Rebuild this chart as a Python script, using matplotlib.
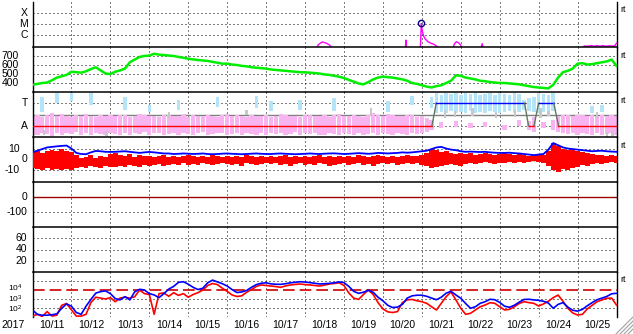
import numpy as np
import matplotlib
matplotlib.use('Agg')
import matplotlib.pyplot as plt
import matplotlib.transforms as mtrans
from matplotlib.lines import Line2D
from matplotlib.ticker import NullLocator

plt.rcParams['font.family'] = ['Liberation Sans', 'DejaVu Sans']
plt.rcParams['axes.unicode_minus'] = False
plt.rcParams['mathtext.fontset'] = 'custom'
plt.rcParams['mathtext.rm'] = 'Liberation Sans'
plt.rcParams['mathtext.it'] = 'Liberation Sans'

# ---------------- data ----------------
year_label = '2017'
day_labels = ['10/11', '10/12', '10/13', '10/14', '10/15', '10/16', '10/17', '10/18',
              '10/19', '10/20', '10/21', '10/22', '10/23', '10/24', '10/25']
# days since 2017-10-11 00 UT, 3-hourly samples
t3 = np.arange(121) * 0.125

# GOES X-ray flux (log10 W/m2); values below -7.06 fall under the panel
xray_t = [0.0, 7.28, 7.34, 7.44, 7.54, 7.64, 7.70, 9.575, 9.593, 9.61, 9.96, 9.987, 10.01,
          10.04, 10.08, 10.12, 10.17, 10.22, 10.30, 10.37, 10.42, 10.785, 10.84, 10.89,
          10.95, 11.0, 11.04, 11.505, 11.55, 11.58, 14.15, 14.17, 14.30, 14.33, 14.45,
          14.48, 14.60, 14.62, 14.75, 14.80, 14.95, 15.0]
xray_log = [-7.3, -7.3, -6.85, -6.6, -6.7, -6.9, -7.3, -7.3, -6.43, -7.3, -7.3, -4.92, -5.6,
            -6.0, -6.3, -6.45, -6.6, -6.7, -6.8, -6.95, -7.3, -7.3, -6.75, -6.58,
            -6.7, -6.9, -7.3, -7.3, -6.76, -7.3, -7.3, -6.97, -6.99, -6.93, -6.99,
            -6.93, -6.99, -6.93, -6.99, -6.95, -6.98, -6.72]
flare_peak_t = 9.987
flare_peak_log = -4.92

# solar wind speed (km/s)
speed = [380, 390, 400, 405, 430, 460, 475, 490,
         525, 520, 515, 530, 555, 575, 540, 505,
         500, 525, 540, 560, 630, 660, 690, 700,
         705, 725, 715, 710, 705, 700, 690, 680,
         670, 662, 655, 650, 645, 635, 625, 615,
         615, 605, 600, 590, 585, 575, 570, 565,
         560, 550, 545, 540, 535, 530, 525, 520,
         518, 515, 510, 505, 495, 490, 480, 470,
         455, 435, 415, 395, 385, 410, 440, 460,
         470, 465, 460, 450, 440, 425, 400, 390,
         375, 360, 350, 365, 375, 400, 425, 485,
         480, 460, 450, 440, 425, 420, 410, 405,
         400, 400, 395, 390, 385, 375, 365, 355,
         350, 345, 340, 380, 460, 520, 535, 560,
         615, 620, 605, 610, 620, 630, 640, 660,
         590]

# IMF sector (phi, deg): A ~ 90, T ~ 270
sector_t = [0.0, 10.26, 10.37, 12.64, 12.74, 12.88, 13.0, 13.39, 13.51, 15.0]
sector_phi = [90, 90, 270, 270, 90, 90, 270, 270, 90, 90]

nan = np.nan
pink_hi = [170, 180, 160, 175, 190, 165, 185, 170,
           160, 175, 165, 185, 170, 160, 180, 170,
           175, 165, 180, 175, 160, 170, 185, 175,
           165, 170, 160, 180, 175, 165, 170, 185,
           160, 175, 170, 165, 180, 170, 160, 175,
           185, 165, 175, 170, 160, 180, 170, 165,
           175, 160, 170, 185, 175, 165, 170, 160,
           180, 175, 165, 170, 180, 160, 175, 185,
           170, 165, 175, 170, 160, 180, 190, 175,
           170, 185, 175, 165, 170, 180, 175, 160,
           170, 150, 140, nan, 120, nan, nan, 130,
           nan, nan, 110, nan, nan, 120, nan, nan,
           nan, 100, nan, nan, 140, nan, 130, 160,
           nan, 120, nan, 140, 170, 180, 175, 165,
           180, 175, 170, 180, 165, 175, 170, 180,
           165]
pink_lo = [20, 15, 30, 25, 10, 35, 20, 30,
           25, 40, 20, 30, 15, 35, 25, 20,
           30, 25, 15, 35, 20, 30, 25, 40,
           20, 30, 35, 15, 25, 30, 20, 35,
           25, 15, 30, 40, 20, 25, 35, 30,
           15, 25, 30, 20, 35, 25, 15, 30,
           20, 35, 25, 30, 15, 25, 40, 20,
           30, 25, 35, 20, 15, 30, 25, 20,
           35, 25, 20, 30, 15, 25, 35, 20,
           30, 25, 20, 35, 25, 15, 30, 25,
           30, 40, 60, nan, 70, nan, nan, 80,
           nan, nan, 70, nan, nan, 80, nan, nan,
           nan, 60, nan, nan, 90, nan, 60, 40,
           nan, 70, nan, 60, 40, 30, 25, 35,
           20, 30, 25, 15, 30, 20, 25, 30,
           20]
cyan_hi = [nan, nan, 320, nan, nan, 350, nan, nan,
           350, nan, nan, nan, 350, nan, nan, nan,
           nan, nan, nan, 320, nan, nan, nan, nan,
           260, nan, nan, nan, nan, nan, 300, nan,
           nan, nan, nan, nan, nan, nan, 320, nan,
           nan, nan, nan, nan, nan, nan, 330, nan,
           nan, 290, nan, nan, nan, nan, nan, 300,
           nan, nan, nan, nan, nan, nan, 310, nan,
           nan, nan, nan, nan, nan, nan, nan, nan,
           nan, 290, nan, nan, nan, nan, 330, nan,
           nan, nan, 320, 350, 340, 355, 345, 350,
           340, 355, 345, 350, 340, 345, 355, 340,
           350, 345, 340, 350, 345, 300, 310, 320,
           350, 345, 340, 350, nan, nan, nan, nan,
           nan, nan, nan, 250, nan, 260, nan, nan,
           nan]
cyan_lo = [nan, nan, 200, nan, nan, 270, nan, nan,
           290, nan, nan, nan, 260, nan, nan, nan,
           nan, nan, nan, 220, nan, nan, nan, nan,
           200, nan, nan, nan, nan, nan, 220, nan,
           nan, nan, nan, nan, nan, nan, 240, nan,
           nan, nan, nan, nan, nan, nan, 230, nan,
           nan, 210, nan, nan, nan, nan, nan, 220,
           nan, nan, nan, nan, nan, nan, 210, nan,
           nan, nan, nan, nan, nan, nan, nan, nan,
           nan, 200, nan, nan, nan, nan, 260, nan,
           nan, nan, 230, 195, 200, 190, 205, 195,
           200, 190, 210, 195, 200, 190, 205, 200,
           195, 200, 210, 195, 200, 220, 210, 200,
           195, 200, 190, 210, nan, nan, nan, nan,
           nan, nan, nan, 190, nan, 200, nan, nan,
           nan]
gray_t = [0.02, 0.3, 1.9, 3.5, 5.5, 8.7, 10.6, 10.85, 11.3, 11.9, 12.4, 13.05, 13.25,
          14.5, 14.75, 14.9]
gray_lo = [0, 20, 10, 150, 180, 170, 150, 160, 170, 150, 160, 150, 170, 150, 0, 10]
gray_hi = [40, 60, 50, 200, 220, 230, 220, 210, 230, 200, 220, 230, 210, 200, 40, 50]

# IMF Bz range and Bt (nT)
bz_hi = [7, 8, 6, 8, 9, 8, 10, 8,
         7, 4, 1, 2, 4, 1, 3, 2,
         5, 6, 4, 3, 5, 2, 4, 3,
         3, 2, 3, 4, 2, 3, 2, 3,
         4, 3, 2, 3, 2, 4, 3, 2,
         3, 2, 3, 2, 4, 3, 2, 3,
         2, 3, 2, 3, 4, 2, 3, 2,
         3, 2, 3, 4, 2, 3, 2, 3,
         2, 3, 2, 4, 3, 2, 3, 4,
         3, 2, 3, 2, 3, 4, 3, 3,
         4, 6, 10, 9, 7, 8, 6, 5,
         6, 5, 6, 4, 5, 6, 5, 4,
         5, 6, 5, 4, 5, 4, 3, 4,
         5, 4, 8, 15, 12, 10, 9, 10,
         8, 7, 6, 5, 4, 4, 3, 4,
         3]
bz_lo = [-8, -9, -10, -8, -10, -9, -10, -9,
         -10, -8, -7, -8, -6, -7, -8, -6,
         -7, -7, -6, -7, -5, -6, -7, -5,
         -6, -5, -4, -6, -5, -4, -5, -3,
         -5, -4, -5, -3, -4, -5, -4, -3,
         -4, -5, -4, -6, -3, -4, -5, -4,
         -3, -4, -3, -5, -4, -6, -4, -3,
         -5, -4, -5, -3, -4, -6, -5, -4,
         -3, -5, -4, -3, -5, -4, -6, -4,
         -3, -4, -3, -5, -4, -3, -4, -3,
         -5, -6, -8, -7, -6, -5, -4, -5,
         -6, -4, -3, -4, -3, -2, -3, -4,
         -3, -3, -2, -3, -2, -3, -2, -1,
         -2, -3, -6, -10, -11, -9, -10, -8,
         -7, -5, -6, -4, -3, -4, -3, -2,
         -3]
bt = [6.7, 8, 9.5, 11, 11.5, 12, 12.4, 12.7,
      10, 6, 5, 4.8, 6.5, 7.8, 7.5, 7,
      6.9, 7, 7.3, 7.5, 7, 6.5, 6, 6.5,
      6.9, 6.5, 6, 5.5, 5.5, 5, 5.2, 5.5,
      5.3, 5, 5.2, 5.5, 5, 4.8, 5, 5.3,
      5.5, 5.2, 5, 4.8, 5, 5.3, 5.5, 5.2,
      5, 5, 5.3, 5.5, 5.2, 5, 4.8, 5,
      5.2, 5.5, 5.2, 5, 5.3, 5.5, 5.6, 5.3,
      5, 5.2, 5.5, 5.8, 5.5, 5.2, 5.5, 6,
      5.8, 5.5, 5.8, 6, 6.5, 6.2, 6.5, 7,
      7.5, 8, 9.5, 11, 11.5, 10, 9, 8.5,
      7.5, 7, 7.2, 7, 6.8, 7, 6.5, 6.2,
      6, 6, 6.2, 5.8, 5.5, 5, 4.5, 4,
      4.5, 5, 9, 15, 13, 11, 10, 9.5,
      9, 8.5, 8, 7.5, 7.8, 8, 7.5, 7.2,
      7]

# GOES electron flux (log10 pfu)
elec_blue_log = [1.78, 1.30, 1.20, 1.20, 1.25, 1.35, 1.97, 2.45,
                 2.20, 1.50, 1.30, 2.20, 2.95, 3.65, 3.82, 3.90,
                 3.60, 3.05, 2.90, 3.26, 2.90, 3.80, 4.08, 4.00,
                 3.60, 3.45, 3.15, 3.60, 4.10, 4.40, 4.85, 4.92,
                 4.65, 4.30, 4.05, 4.20, 4.80, 5.10, 4.90, 4.70,
                 4.44, 4.05, 3.72, 3.78, 3.95, 4.30, 4.60, 4.75,
                 4.80, 4.68, 4.64, 4.63, 4.70, 4.80, 4.86, 4.92,
                 4.88, 4.82, 4.75, 4.67, 4.70, 4.74, 4.80, 4.90,
                 4.82, 4.40, 3.85, 3.63, 3.75, 3.98, 3.75, 3.20,
                 2.80, 2.30, 2.05, 2.10, 2.40, 3.10, 3.35, 3.42,
                 3.42, 3.30, 3.10, 2.92, 3.20, 3.65, 3.85, 3.45,
                 3.08, 2.50, 1.97, 2.14, 2.52, 2.70, 2.97, 2.92,
                 2.62, 2.20, 2.08, 2.30, 2.65, 2.95, 2.97, 2.90,
                 2.85, 2.75, 2.55, 1.97, 2.40, 2.60, 2.10, 1.75,
                 1.65, 1.85, 2.25, 2.60, 2.92, 3.10, 3.28, 3.58,
                 3.63]
elec_red_log = [1.10, 1.30, 1.05, 1.60, 1.10, 1.20, 2.30, 2.50,
                1.80, 1.10, 1.10, 1.30, 2.60, 3.20, 3.10, 3.00,
                3.15, 2.70, 3.10, 3.20, 3.10, 3.25, 4.00, 3.60,
                3.50, 1.30, 3.60, 3.67, 3.30, 3.70, 3.40, 3.60,
                3.20, 3.50, 3.70, 4.00, 4.50, 4.72, 4.60, 4.20,
                3.85, 3.45, 3.28, 3.35, 3.75, 4.05, 4.40, 4.56,
                4.50, 4.44, 4.38, 4.30, 4.45, 4.56, 4.62, 4.67,
                4.60, 4.56, 4.50, 4.44, 4.55, 4.67, 4.72, 4.80,
                4.50, 3.67, 3.10, 2.95, 3.50, 4.00, 3.50, 2.60,
                1.90, 1.57, 1.50, 1.60, 2.60, 2.90, 2.95, 2.80,
                2.70, 2.52, 2.14, 1.78, 2.52, 3.26, 3.78, 2.90,
                1.97, 1.30, 1.41, 1.78, 2.14, 2.33, 2.59, 2.52,
                2.14, 1.78, 1.85, 2.14, 2.50, 2.70, 2.60, 2.52,
                2.22, 2.45, 2.75, 3.15, 3.44, 2.75, 1.97, 1.45,
                1.22, 1.30, 1.90, 2.30, 2.70, 2.89, 3.08, 3.10,
                2.33]
elec_tick_vals = [1e4, 1e3, 1e2]
elec_tick_labels = [r'$10^4$', r'$10^3$', r'$10^2$']

# ---------------- layout ----------------
W, H = 633, 334
fig = plt.figure(figsize=(W / 100, H / 100), dpi=100)
fig.patch.set_facecolor('white')
L, R = 32.5, 616.5
tops = [2, 47, 92, 137, 182, 227, 272]
PH = 45
FS = 7.5
DOT = (0, (1, 3))
log_panels = {0, 6}

axes = []
for k, top in enumerate(tops):
    ax = fig.add_axes([L / W, 1 - (top + PH) / H, (R - L) / W, PH / H])
    if k in log_panels:
        ax.set_yscale('log')
    ax.set_xlim(0, 15)
    for a in (ax.xaxis, ax.yaxis):
        a.set_major_locator(NullLocator())
        a.set_minor_locator(NullLocator())
    for s in ['left', 'right']:
        ax.spines[s].set_linewidth(1.0)
    ax.spines['bottom'].set_visible(False)
    ax.spines['top'].set_visible(k > 0)
    ax.spines['top'].set_linewidth(1.1)
    for d in range(1, 15):
        ax.axvline(d, color='k', lw=0.72, ls=DOT, zorder=1)
    ax.patch.set_alpha(0)
    axes.append(ax)


def ylab(ax, y, s, xr, fs=FS, dy=0.0):
    tr = mtrans.blended_transform_factory(fig.transFigure, ax.transData)
    tr = tr + mtrans.ScaledTranslation(0, dy / 100, fig.dpi_scale_trans)
    ax.text(xr / W, y, s, transform=tr, ha='right', va='center', fontsize=fs,
            clip_on=False)


def rt(ax):
    ax.text(620 / W, 1 - 8 / PH, 'rt', transform=mtrans.blended_transform_factory(
        fig.transFigure, ax.transAxes), ha='left', va='center', fontsize=6.5)


# panel 1: X-ray
ax = axes[0]
ax.set_ylim(10 ** -7.06, 10 ** -2.97)
for v in [1e-4, 1e-5, 1e-6]:
    ax.axhline(v, color='k', lw=0.72, ls=DOT, zorder=1)
ax.plot(xray_t, 10 ** np.array(xray_log), color='#ff00ff', lw=1.0, zorder=3)
ax.plot([flare_peak_t], [10 ** flare_peak_log], 'o', mfc='none', mec='#000080',
        ms=4.5, mew=1.0, zorder=4)
for v, s in [(1e-4, 'X'), (1e-5, 'M'), (1e-6, 'C')]:
    ylab(ax, v, s, 28)
rt(ax)

# panel 2: speed
ax = axes[1]
ax.set_ylim(300, 800)
for v in [400, 500, 600, 700]:
    ax.axhline(v, color='k', lw=0.72, ls=DOT, zorder=1)
    ylab(ax, v, str(v), 19)
ax.plot(t3, speed, color='#00ee00', lw=1.8, zorder=3)
rt(ax)

# panel 3: sector / phi
ax = axes[2]
ax.set_ylim(0, 360)
for v in [90, 270]:
    ax.axhline(v, color='k', lw=0.72, ls=DOT, zorder=1)
ax.axhline(180, color='#808080', lw=1.0, zorder=2)
ph_lo = np.array(pink_lo, float); ph_hi = np.array(pink_hi, float)
ax.bar(t3, ph_hi - ph_lo, bottom=ph_lo, width=0.11, color='#f8b4f0', lw=0, zorder=2)
cy_lo = np.array(cyan_lo, float); cy_hi = np.array(cyan_hi, float)
ax.bar(t3, cy_hi - cy_lo, bottom=cy_lo, width=0.09, color='#b4e4f8', lw=0, zorder=2)
g_lo = np.array(gray_lo, float); g_hi = np.array(gray_hi, float)
ax.bar(gray_t, g_hi - g_lo, bottom=g_lo, width=0.06, color='#c8c8c8', lw=0, zorder=2)
for i in range(len(sector_t) - 1):
    a, b = sector_phi[i], sector_phi[i + 1]
    c = '#ff0000' if a == b == 90 else ('#0000ff' if a == b == 270 else '#607860')
    ax.plot(sector_t[i:i + 2], sector_phi[i:i + 2], color=c, lw=1.0, zorder=3)
ylab(ax, 270, 'T', 28)
ylab(ax, 90, 'A', 28)
rt(ax)

# panel 4: Bz / Bt
ax = axes[3]
ax.set_ylim(-20.5, 20.5)
for v in [10, -10]:
    ax.axhline(v, color='k', lw=0.72, ls=DOT, zorder=1)
ax.axhline(0, color='#990000', lw=1.0, zorder=2)
bzh = np.array(bz_hi, float); bzl = np.array(bz_lo, float)
ax.bar(t3, bzh - bzl, bottom=bzl, width=0.125, color='#ff0000', lw=0, zorder=3)
ax.plot(t3, bt, color='#0000ff', lw=1.3, zorder=4)
ylab(ax, 10, '10', 20)
ylab(ax, 0, '0', 27)
ylab(ax, -10, '-10', 20)
rt(ax)

# panel 5: Dst (no data)
ax = axes[4]
ax.set_ylim(-200, 100)
ax.axhline(-100, color='k', lw=0.72, ls=DOT, zorder=1)
ax.axhline(0, color='#990000', lw=1.0, zorder=2)
ylab(ax, 0, '0', 27)
ylab(ax, -100, '-100', 27)

# panel 6: (no data)
ax = axes[5]
ax.set_ylim(0, 80)
for v in [20, 40, 60]:
    ax.axhline(v, color='k', lw=0.72, ls=DOT, zorder=1)
    ylab(ax, v, str(v), 27)

# panel 7: electrons
ax = axes[6]
ax.set_ylim(1e1, 1e6)
for v in [1e2, 1e3, 1e5]:
    ax.axhline(v, color='k', lw=0.72, ls=DOT, zorder=1)
ax.axhline(1e4, color='#cc0000', lw=1.2, ls=(0, (7, 3)), zorder=2)
ax.plot(t3, 10 ** np.array(elec_red_log), color='#ff0000', lw=1.2, zorder=3)
ax.plot(t3, 10 ** np.array(elec_blue_log), color='#0000ff', lw=1.2, zorder=4)
for v, s, dy in zip(elec_tick_vals, elec_tick_labels, [1.5, 0.0, -1.5]):
    ylab(ax, v, s, 22, fs=6.0, dy=dy)
rt(ax)

# bottom date labels
for i, s in enumerate(day_labels):
    x = (L + (i + 0.5) * (R - L) / 15) / W
    fig.text(x, 1 - 325 / H, s, ha='center', va='center', fontsize=FS)
fig.text(1.5 / W, 1 - 325 / H, year_label, ha='left', va='center', fontsize=FS)

# window resize grip
for k in [5, 9, 13, 17]:
    fig.add_artist(Line2D([(W - k) / W, 1], [0, k / H], color='#a0a0a0', lw=0.8))

fig.savefig('out.png', dpi=100, facecolor='white')
